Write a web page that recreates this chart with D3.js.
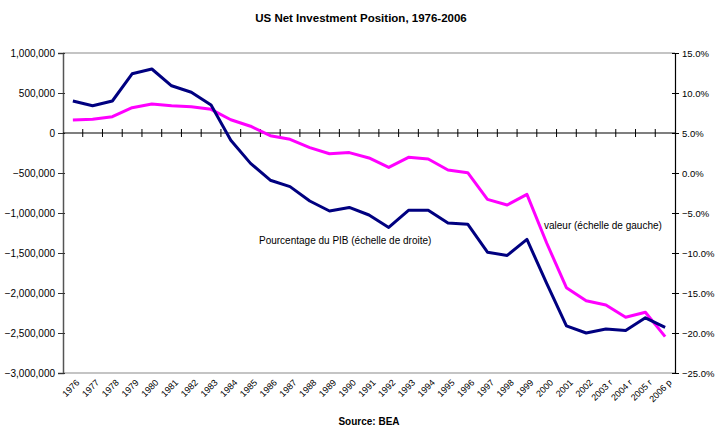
<!DOCTYPE html>
<html><head><meta charset="utf-8">
<script src="https://cdn.jsdelivr.net/npm/d3@7"></script>
<style>body{margin:0;background:#fff}svg{display:block;font-family:"Liberation Sans",Arial,sans-serif}</style>
</head><body>
<script>
const years = ["1976","1977","1978","1979","1980","1981","1982","1983","1984","1985","1986","1987","1988","1989","1990","1991","1992","1993","1994","1995","1996","1997","1998","1999","2000","2001","2002","2003 r","2004 r","2005 r","2006 p"];
const valeur = [162000,171000,204000,316000,362000,341000,329000,296000,165000,85000,-34000,-79000,-183000,-259000,-245000,-312000,-430000,-304000,-325000,-462000,-496000,-829000,-900000,-767000,-1375000,-1934000,-2096000,-2150000,-2304000,-2241000,-2546000];
const pctPIB = [9.0,8.4,9.0,12.4,13.0,10.9,10.1,8.5,4.1,1.2,-0.9,-1.7,-3.5,-4.75,-4.3,-5.25,-6.8,-4.66,-4.66,-6.25,-6.4,-9.9,-10.3,-8.3,-13.8,-19.1,-20.0,-19.5,-19.7,-18.1,-19.3];
const leftTicks = [1000000,500000,0,-500000,-1000000,-1500000,-2000000,-2500000,-3000000];
const rightTicks = [15,10,5,0,-5,-10,-15,-20,-25];

const W=716,H=430, L=63, R=675, T=53, B=373;
const svg=d3.select("body").append("svg").attr("width",W).attr("height",H);
const x=d3.scaleBand().domain(years).range([L,R]);
const cx=d=>x(d)+x.bandwidth()/2;
const yL=d3.scaleLinear().domain([-3000000,1000000]).range([B,T]);
const yR=d3.scaleLinear().domain([-25,15]).range([B,T]);

svg.append("line").attr("x1",L).attr("x2",R).attr("y1",T).attr("y2",T).attr("stroke","#b0b0b0").attr("stroke-width",1.5);
svg.append("line").attr("x1",L).attr("x2",R).attr("y1",B).attr("y2",B).attr("stroke","#b0b0b0").attr("stroke-width",1.5);

const la=svg.append("g").attr("transform",`translate(${L},0)`)
  .call(d3.axisLeft(yL).tickValues(leftTicks).tickSize(5).tickPadding(3).tickFormat(d3.format(",")));
la.select(".domain").attr("stroke","#555").attr("stroke-width",1.5);
la.selectAll(".tick line").attr("stroke","#333").attr("x2",-5).attr("x1",2);
la.selectAll("text").attr("font-size",10).attr("fill","#000").attr("font-family","Liberation Sans, Arial, sans-serif");

const ra=svg.append("g").attr("transform",`translate(${R},0)`)
  .call(d3.axisRight(yR).tickValues(rightTicks).tickSize(4).tickPadding(3).tickFormat(d=>d3.format(".1f")(d)+"%"));
ra.select(".domain").attr("stroke","#000").attr("stroke-width",1.2);
ra.selectAll(".tick line").attr("stroke","#000").attr("x1",-3);
ra.selectAll("text").attr("font-size",9.5).attr("fill","#000").attr("font-family","Liberation Sans, Arial, sans-serif");

const y0=yL(0);
svg.append("line").attr("x1",L).attr("x2",R).attr("y1",y0).attr("y2",y0).attr("stroke","#000").attr("stroke-width",1.2);
svg.append("g").selectAll("line").data(years.slice(1)).join("line")
  .attr("x1",d=>x(d)).attr("x2",d=>x(d)).attr("y1",y0-4).attr("y2",y0+4).attr("stroke","#000").attr("stroke-width",1);

svg.append("g").selectAll("text").data(years).join("text")
  .attr("transform",d=>`translate(${cx(d)+5},${B+8}) rotate(-45)`)
  .attr("text-anchor","end").attr("font-size",9).attr("dy","0.35em").text(d=>d);

const lineV=d3.line().x((d,i)=>cx(years[i])).y(d=>yL(d));
const lineP=d3.line().x((d,i)=>cx(years[i])).y(d=>yR(d));
svg.append("path").datum(valeur).attr("d",lineV).attr("fill","none").attr("stroke","#ff00ff").attr("stroke-width",3).attr("stroke-linejoin","round");
svg.append("path").datum(pctPIB).attr("d",lineP).attr("fill","none").attr("stroke","#000080").attr("stroke-width",3).attr("stroke-linejoin","round");

svg.append("text").attr("x",361).attr("y",22).attr("text-anchor","middle").attr("font-weight","bold").attr("font-size",11.5).text("US Net Investment Position, 1976-2006");
svg.append("text").attr("x",544).attr("y",229).attr("font-size",10).text("valeur (échelle de gauche)");
svg.append("text").attr("x",259).attr("y",244).attr("font-size",10).text("Pourcentage du PIB (échelle de droite)");
svg.append("text").attr("x",369).attr("y",425).attr("text-anchor","middle").attr("font-weight","bold").attr("font-size",10).text("Source: BEA");
</script>
</body></html>
